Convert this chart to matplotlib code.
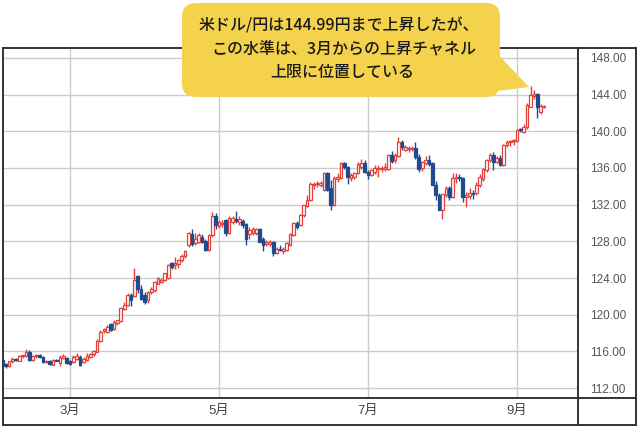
import numpy as np
import pandas as pd
import matplotlib
matplotlib.use('Agg')
import matplotlib.pyplot as plt
from matplotlib.patches import FancyBboxPatch, Polygon
from matplotlib.lines import Line2D

# USD/JPY daily candles, 2022-02-01 .. 2022-09-13 (business days)
dates = pd.bdate_range('2022-02-01', '2022-09-13')

opens = [
    # Feb
    115.05, 114.6, 114.35, 114.9, 115.2, 115.0, 115.45, 115.5, 115.95, 115.05,
    115.5, 115.6, 115.4, 114.85, 114.95, 114.55, 115.05, 114.7, 115.25, 115.25,
    # Mar
    114.95, 114.8, 115.2, 115.4, 114.8, 115.05, 115.4, 115.7, 115.95, 117.1,
    118.25, 118.1, 118.95, 118.4, 119.05, 119.3, 120.6, 121.05, 122.2, 122.0,
    124.2, 122.8, 122.1,
    # Apr
    121.6, 122.45, 122.7, 123.4, 123.6, 123.8, 123.95, 125.6, 125.4, 125.5,
    125.95, 126.4, 127.6, 128.85, 127.8, 127.9, 128.5, 128.0, 127.05, 128.7,
    130.8,
    # May
    129.7, 129.9, 130.3, 128.9, 130.1, 130.4, 130.1, 130.2, 129.9, 128.8,
    128.9, 128.9, 129.3, 128.3, 127.67, 127.7, 127.9, 126.7, 127.2, 126.9,
    127.05, 127.6,
    # Jun
    128.7, 129.95, 129.8, 130.85, 131.8, 132.5, 134.1, 134.2, 134.1, 133.6,
    135.5, 133.8, 131.95, 134.8, 134.9, 136.55, 136.1, 134.9, 135.05, 135.45,
    136.1, 136.55,
    # Jul
    135.6, 135.25, 135.6, 135.85, 135.85, 135.85, 135.85, 137.4, 136.85, 137.3,
    138.85, 137.95, 138.1, 138.05, 138.15, 137.25, 136.05, 136.5, 136.85, 136.5,
    134.15,
    # Aug
    133.05, 131.4, 133.05, 133.8, 132.8, 134.9, 135.0, 134.95, 132.8, 132.95,
    133.3, 133.25, 134.15, 134.75, 135.8, 136.85, 137.4, 136.7, 137.1, 136.3,
    138.5, 138.8, 138.9,
    # Sep
    138.95, 140.2, 139.95, 140.5, 142.7, 143.8, 144.05, 142.1, 142.65,
]
highs = [
    115.2, 114.75, 115.0, 115.35, 115.3, 115.6, 115.65, 116.3, 116.1, 115.6,
    115.7, 115.7, 115.5, 115.1, 115.05, 115.15, 115.2, 115.65, 115.75, 115.4,
    115.1, 115.55, 115.8, 115.55, 115.4, 115.8, 115.85, 116.2, 117.35, 118.3,
    118.6, 118.9, 119.1, 119.4, 119.45, 120.8, 121.4, 122.4, 122.4, 125.05,
    124.3, 123.2, 122.45,
    122.6, 123.0, 123.7, 124.1, 124.05, 124.6, 125.5, 125.75, 126.3, 126.1,
    126.6, 127.05, 129.0, 129.4, 128.9, 128.9, 128.8, 128.3, 128.8, 131.2,
    131.1,
    130.3, 130.3, 130.4, 130.8, 130.8, 131.3, 130.8, 130.4, 130.0, 129.6,
    129.6, 129.5, 129.45, 128.5, 128.2, 128.1, 128.0, 127.4, 127.6, 127.4,
    127.9, 128.9,
    130.1, 130.2, 131.0, 132.0, 133.0, 134.5, 134.5, 134.55, 134.6, 135.6,
    135.6, 134.7, 135.1, 135.4, 136.7, 136.7, 136.2, 135.4, 135.6, 136.7,
    137.0, 136.9,
    135.75, 135.9, 136.3, 136.3, 136.2, 136.5, 137.5, 137.8, 137.6, 139.35,
    139.1, 138.5, 138.4, 138.4, 138.8, 137.5, 136.8, 137.3, 137.45, 136.6,
    134.6,
    133.3, 133.2, 134.0, 134.0, 135.5, 135.5, 135.3, 135.05, 133.4, 133.8,
    133.6, 134.5, 135.3, 136.0, 137.0, 137.6, 137.7, 137.3, 137.4, 138.6,
    139.0, 139.0, 139.2,
    140.25, 140.4, 140.8, 143.1, 144.99, 144.55, 144.2, 143.0, 142.85,
]
lows = [
    114.45, 114.15, 114.25, 114.75, 114.95, 114.9, 115.3, 115.4, 114.95, 114.95,
    115.3, 115.3, 114.7, 114.7, 114.5, 114.5, 114.9, 114.35, 115.15, 114.6,
    114.5, 114.7, 115.1, 114.45, 114.7, 114.95, 115.3, 115.5, 115.9, 117.0,
    117.95, 118.0, 118.2, 118.3, 118.9, 119.2, 120.5, 120.9, 121.0, 121.9,
    122.4, 121.55, 121.2,
    121.3, 122.3, 122.5, 123.3, 123.5, 123.7, 123.9, 125.0, 125.0, 125.1,
    125.8, 126.2, 127.4, 127.5, 127.6, 127.8, 127.8, 126.95, 126.9, 128.5,
    129.3,
    129.5, 129.6, 128.6, 128.8, 129.9, 130.0, 129.8, 129.5, 127.55, 128.3,
    128.7, 128.7, 127.9, 127.0, 127.5, 127.5, 126.35, 126.6, 126.9, 126.6,
    126.9, 127.5,
    128.6, 129.4, 129.7, 130.7, 131.7, 132.4, 133.7, 133.9, 133.9, 133.5,
    133.5, 131.4, 131.8, 134.5, 134.8, 135.9, 134.3, 134.6, 134.8, 135.3,
    135.9, 135.4,
    134.75, 135.1, 135.3, 135.0, 135.6, 135.7, 135.8, 136.5, 136.5, 137.2,
    138.0, 137.8, 137.7, 137.9, 137.0, 135.6, 135.7, 136.3, 136.2, 134.1,
    132.5,
    131.4, 130.4, 132.8, 132.5, 132.7, 134.4, 134.6, 132.3, 131.75, 132.6,
    132.6, 133.0, 133.9, 134.6, 135.6, 136.7, 135.8, 136.5, 136.2, 136.2,
    138.3, 138.4, 138.5,
    138.8, 139.9, 139.8, 140.3, 142.6, 143.5, 141.5, 141.9, 142.55,
]
closes = [
    114.55, 114.35, 114.9, 115.2, 115.05, 115.45, 115.55, 115.95, 115.05, 115.45,
    115.6, 115.4, 114.8, 114.95, 114.6, 115.05, 114.95, 115.4, 115.5, 114.7,
    114.6, 115.4, 115.5, 114.55, 115.2, 115.5, 115.7, 116.0, 117.1, 118.15,
    118.45, 118.7, 118.3, 119.2, 119.4, 120.7, 121.05, 122.2, 121.6, 123.8,
    122.8, 121.7, 121.4,
    122.5, 122.8, 123.6, 123.95, 123.8, 124.5, 125.4, 125.2, 125.6, 125.95,
    126.45, 126.95, 128.9, 127.7, 128.3, 128.7, 127.95, 127.05, 128.7, 130.8,
    129.8,
    130.1, 130.05, 128.9, 130.5, 130.5, 130.25, 130.4, 129.8, 128.3, 129.2,
    129.3, 129.35, 127.95, 127.6, 127.95, 127.9, 126.7, 127.2, 127.05, 127.15,
    127.8, 128.85,
    129.95, 129.6, 130.85, 131.95, 132.5, 134.25, 134.3, 134.35, 134.4, 135.4,
    133.6, 131.95, 134.9, 135.05, 136.5, 136.1, 135.05, 135.2, 135.5, 136.4,
    136.55, 135.6,
    135.25, 135.75, 135.95, 135.95, 136.0, 136.15, 137.4, 136.75, 137.4, 138.85,
    138.3, 138.3, 138.2, 138.2, 137.25, 135.85, 136.6, 136.85, 136.4, 134.15,
    133.05,
    131.45, 133.15, 133.8, 132.8, 134.95, 135.0, 134.9, 132.8, 133.05, 133.3,
    133.2, 134.15, 135.05, 135.85, 136.85, 137.4, 136.7, 137.05, 136.3, 138.5,
    138.85, 138.95, 139.05,
    140.15, 140.1, 140.5, 142.9, 143.95, 144.1, 142.7, 142.75, 142.75,
]

month_ticks = ['2022-03', '2022-05', '2022-07', '2022-09']
month_labels = ['3月', '5月', '7月', '9月']
price_ticks = np.arange(112, 149, 4)

note_lines = ['米ドル/円は144.99円まで上昇したが、',
              'この水準は、3月からの上昇チャネル',
              '上限に位置している']

o = np.array(opens); h = np.array(highs); l = np.array(lows); c = np.array(closes)
x = np.arange(len(dates))
RED = '#e0413b'
BLUE = '#1f4c8f'
FRAME = '#333333'

W, H = 638, 429
fig = plt.figure(figsize=(W / 100, H / 100), dpi=100)
fig.patch.set_facecolor('white')

ax = fig.add_axes([3 / W, 1 - 398 / H, 575 / W, 350 / H])

up = c >= o
body_lo = np.minimum(o, c)
body_h = np.maximum(np.abs(c - o), 0.06)

ax.vlines(x[up], l[up], h[up], color=RED, lw=1, zorder=2)
ax.bar(x[up], body_h[up], bottom=body_lo[up], width=0.78,
       facecolor='white', edgecolor=RED, linewidth=0.9, zorder=3)
ax.vlines(x[~up], l[~up], h[~up], color=BLUE, lw=1, zorder=2)
ax.bar(x[~up], body_h[~up], bottom=body_lo[~up], width=0.78,
       facecolor=BLUE, edgecolor=BLUE, linewidth=0.9, zorder=3)

# one trading day ~3.39 px, first business day of March at x=70 px
mar1 = int(np.argmax(dates >= pd.Timestamp('2022-03-01')))
step = 149 / 44
ax.set_xlim(mar1 - 67 / step, mar1 + 508 / step)
ax.set_ylim(112 - 10 / 9.167, 148 + 10 / 9.167)

tick_pos = [int(np.argmax(dates >= pd.Timestamp(m + '-01'))) for m in month_ticks]
ax.set_xticks(tick_pos)
ax.set_xticklabels(month_labels)
ax.set_yticks(price_ticks)
ax.set_yticklabels(['%.2f' % v for v in price_ticks])
ax.yaxis.tick_right()
ax.tick_params(axis='y', length=0, pad=9, labelsize=8.5, labelcolor='#555555')
ax.tick_params(axis='x', length=0, pad=5, labelsize=9.5, labelcolor='#444444')
for lbl in ax.get_xticklabels():
    lbl.set_fontfamily(['Liberation Sans', 'Noto Sans CJK JP'])
for lbl in ax.get_yticklabels():
    lbl.set_fontfamily(['Liberation Sans'])
ax.grid(True, color='#cccccc', lw=1)
ax.set_axisbelow(True)
for s in ax.spines.values():
    s.set_color(FRAME)
    s.set_linewidth(1.4)

# overlay in pixel coordinates for frame and callout
ov = fig.add_axes([0, 0, 1, 1])
ov.set_xlim(0, W)
ov.set_ylim(H, 0)
ov.axis('off')
for xs, ys in [([3, 3], [398, 425]), ([3, 636], [425, 425]), ([636, 636], [48, 425]),
               ([578, 636], [48, 48]), ([578, 578], [398, 425]), ([578, 636], [398, 398])]:
    ov.add_line(Line2D(xs, ys, color=FRAME, lw=1.4))

YEL = '#f5d24b'
ov.add_patch(Polygon([(490, 46), (490, 92), (529, 87)], closed=True,
                     facecolor=YEL, edgecolor='none', zorder=5))
ov.add_patch(FancyBboxPatch((182, 3), 318, 94, boxstyle='round,pad=0,rounding_size=14',
                            facecolor=YEL, edgecolor='none', zorder=5))
for tx, ty, t in zip([339, 344, 342], [26, 50, 73], note_lines):
    ov.text(tx, ty, t, ha='center', va='center', fontsize=11.5, color='#1a1a1a',
            weight='medium', family=['Noto Sans CJK JP', 'DejaVu Sans'], zorder=6)

fig.savefig('out.png', dpi=100)
